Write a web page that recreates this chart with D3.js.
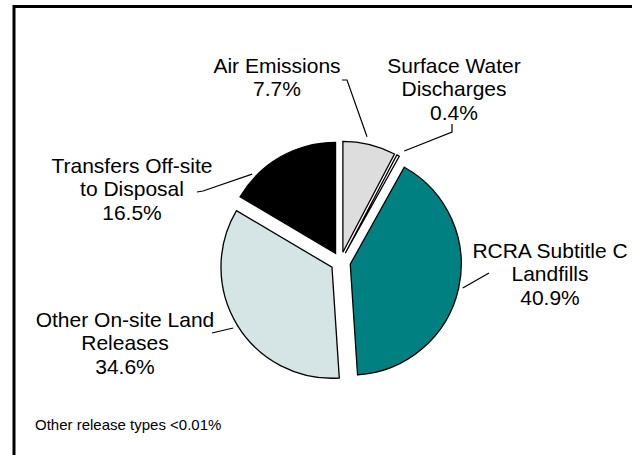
<!DOCTYPE html>
<html>
<head>
<meta charset="utf-8">
<script src="https://cdn.jsdelivr.net/npm/d3@7"></script>
<style>
  html, body { margin: 0; padding: 0; background: #fff; }
  svg { display: block; }
  text { font-family: "Liberation Sans", Arial, sans-serif; fill: #000; }
</style>
</head>
<body>
<svg id="chart" width="632" height="455"></svg>
<script>
// Release categories, clockwise from 12 o'clock
const categories = [
  "Air Emissions",
  "Surface Water Discharges",
  "RCRA Subtitle C Landfills",
  "Other On-site Land Releases",
  "Transfers Off-site to Disposal"
];
// Share of total releases, percent
const shares = [7.7, 0.4, 40.9, 34.6, 16.5];
// Category names as wrapped on the chart
const labelLines = [
  ["Air Emissions"],
  ["Surface Water", "Discharges"],
  ["RCRA Subtitle C", "Landfills"],
  ["Other On-site Land", "Releases"],
  ["Transfers Off-site", "to Disposal"]
];
const fills = ["#dddddd", "#ffffff", "#008080", "#d5e4e4", "#000000"];
const footnote = "Other release types <0.01%";

// Layout: label anchor (centre x, first baseline), leader path from the label
// towards the pie, ending at an angle/radius measured from the slice centre.
const layout = [
  { x: 277, y: 73, leader: [[342, 80], [347, 80]], angle: 11.8, r: 118 },
  { x: 454, y: 73, leader: [[452, 124], [452, 132]], angle: 30.0, r: 118 },
  { x: 550, y: 258, leader: [[489, 273]], angle: 102.0, r: 115 },
  { x: 125, y: 327, leader: [[212, 333]], angle: 238.4, r: 116 },
  { x: 132, y: 173, leader: [[197, 192], [203, 191]], angle: 313.5, r: 115 }
];

const svg = d3.select("#chart");
const W = 632, H = 455;

// Frame (right and bottom edges run off the page)
svg.append("rect")
  .attr("x", 14).attr("y", 6.5)
  .attr("width", W + 20).attr("height", H + 20)
  .attr("fill", "none").attr("stroke", "#000").attr("stroke-width", 3);

const cx = 340.5, cy = 262, radius = 111, explode = 10;

const pie = d3.pie().sort(null).value(d => d)
  .startAngle(0).endAngle(2 * Math.PI);
const arcs = pie(shares);
const arc = d3.arc().innerRadius(0).outerRadius(radius);

// Offset of each exploded slice along its mid-angle
function sliceCentre(a) {
  const mid = (a.startAngle + a.endAngle) / 2;
  return [cx + explode * Math.sin(mid), cy - explode * Math.cos(mid)];
}

const g = svg.append("g");
g.selectAll("path.slice")
  .data(arcs)
  .join("path")
  .attr("class", "slice")
  .attr("transform", d => {
    const c = sliceCentre(d);
    return `translate(${c[0]},${c[1]})`;
  })
  .attr("d", arc)
  .attr("fill", (d, i) => fills[i])
  .attr("stroke", "#000")
  .attr("stroke-width", 1.3)
  .attr("stroke-linejoin", "miter");

// Leader lines
const line = d3.line();
arcs.forEach((a, i) => {
  const L = layout[i];
  const c = sliceCentre(a);
  const ang = L.angle * Math.PI / 180;
  const inner = [c[0] + L.r * Math.sin(ang), c[1] - L.r * Math.cos(ang)];
  svg.append("path")
    .attr("d", line(L.leader.concat([inner])))
    .attr("fill", "none")
    .attr("stroke", "#000")
    .attr("stroke-width", 1.2);
});

// Labels: category name lines followed by the percentage
const fmt = d3.format(".1f");
arcs.forEach((a, i) => {
  const L = layout[i];
  const lines = labelLines[i].concat([fmt(shares[i]) + "%"]);
  const t = svg.append("text")
    .attr("text-anchor", "middle")
    .attr("font-size", 21);
  lines.forEach((s, k) => {
    t.append("tspan")
      .attr("x", L.x)
      .attr("y", L.y + k * 23.3)
      .text(s);
  });
});

svg.append("text")
  .attr("x", 35).attr("y", 430)
  .attr("font-size", 15)
  .text(footnote);
</script>
</body>
</html>
